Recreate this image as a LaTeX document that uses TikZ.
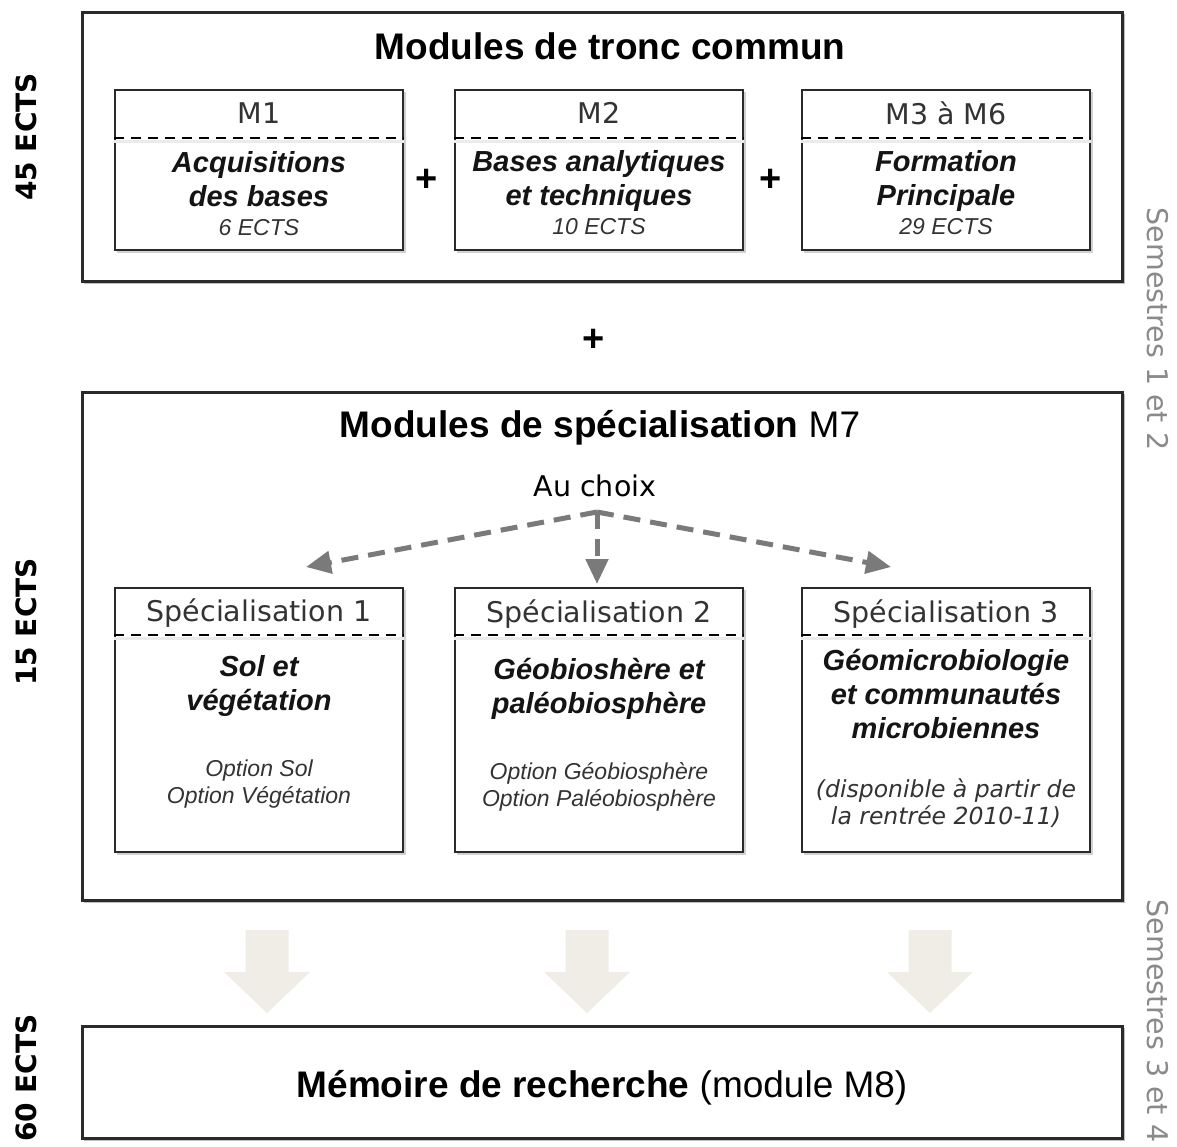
\documentclass[tikz,border=0pt]{standalone}
\usepackage{fontspec}
\setmainfont{Liberation Sans}
\newfontfamily\verd{DejaVu Sans}
\newfontfamily\verdbold{DejaVu Sans Bold}
\usetikzlibrary{arrows.meta}
\definecolor{txtdark}{HTML}{333333}
\definecolor{boxline}{HTML}{2A2A2A}
\definecolor{arrowgray}{HTML}{7A7A7A}
\definecolor{beige}{HTML}{EFEDE6}
\definecolor{semgray}{HTML}{8A8A8A}
\tikzset{
  outerbox/.style={draw=boxline, line width=3pt, minimum width=1040pt, inner sep=0pt},
  modbox/.style={draw=boxline, line width=2pt, minimum width=288pt, inner sep=0pt},
  sepline/.style={line width=2.5pt, dash pattern=on 10pt off 7pt},
  sepshadow/.style={line width=3pt, black!8},
  bigtitle/.style={font=\fontsize{37}{44}\selectfont\bfseries, text=black},
  header/.style={font=\verd\fontsize{28.5}{34}\selectfont, text=txtdark, inner sep=0pt},
  modtitle/.style={font=\fontsize{29}{34}\selectfont\bfseries\itshape, text=black!92, align=center, inner sep=0pt},
  ectsnote/.style={font=\fontsize{23}{27}\selectfont\itshape, text=txtdark, inner sep=0pt},
  optnote/.style={font=\fontsize{23}{27}\selectfont\itshape, text=txtdark, align=center, inner sep=0pt},
  plussign/.style={font=\fontsize{38}{40}\selectfont\bfseries, inner sep=0pt},
  choicearrow/.style={draw=arrowgray, line width=5pt, dash pattern=on 17pt off 10pt, -{Triangle[length=25pt,width=22pt]}},
  bigarrow/.style={fill=beige},
  ectslabel/.style={font=\verdbold\fontsize{28}{30}\selectfont, rotate=90, inner sep=0pt},
  semlabel/.style={font=\verd\fontsize{28.5}{30}\selectfont, text=semgray, rotate=-90, inner sep=0pt},
}
\begin{document}
\begin{tikzpicture}[x=1pt,y=-1pt]
\useasboundingbox (0,0) rectangle (1177,1146);
\fill[white] (0,0) rectangle (1177,1146);

% ---------- Outer boxes (with faint shadow)
\fill[black!25] (84,14) rectangle (1125,284);
\node[outerbox, fill=white, minimum height=269pt] (tronc) at (602,146.5) {};
\node[bigtitle] (tronctitle) at (610,46) {Modules de tronc commun};

% ---------- Top modules
\foreach \cx/\nm in {259/m1, 599/m2, 946/m3}{
  \fill[black!18] (\cx-142,92) rectangle (\cx+147,253);
  \node[modbox, fill=white, minimum height=160pt] (\nm) at (\cx,170) {};
  \draw[sepshadow] ([yshift=-3pt]\nm.west |- 0,138) -- ([yshift=-3pt]\nm.east |- 0,138);
  \draw[sepline] (\nm.west |- 0,138) -- (\nm.east |- 0,138);
}
\node[header] (m1h) at (259,113) {M1};
\node[header] (m2h) at (599,113) {M2};
\node[header] (m3h) at (946,113) {M3 à M6};

\node[modtitle] (m1t) at (259,179) {Acquisitions\\des bases};
\node[modtitle] (m2t) at (599,181) {Bases analytiques\\et techniques};
\node[modtitle] (m3t) at (946,181) {Formation\\Principale};

\node[ectsnote] (m1e) at (259,228) {6 ECTS};
\node[ectsnote] (m2e) at (599,227) {10 ECTS};
\node[ectsnote] (m3e) at (946,227) {29 ECTS};

\node[plussign] (p1) at (427,180) {+};
\node[plussign] (p2) at (771,180) {+};
\node[plussign] (p3) at (594,340) {+};

% ---------- Specialisation block
\fill[black!25] (84,394) rectangle (1125,903);
\node[outerbox, fill=white, minimum height=508pt] (spec) at (602,646) {};
\node[font=\fontsize{37}{44}\selectfont] (spectitle) at (600,428) {\textbf{Modules de spécialisation} M7};
\node[font=\verd\fontsize{28.5}{34}\selectfont, inner sep=0pt] (auchoix) at (595,486) {Au choix};

\foreach \cx/\nm in {259/s1, 599/s2, 946/s3}{
  \fill[black!18] (\cx-142,590) rectangle (\cx+147,855);
  \node[modbox, fill=white, minimum height=264pt] (\nm) at (\cx,720) {};
  \draw[sepshadow] ([yshift=-3pt]\nm.west |- 0,635) -- ([yshift=-3pt]\nm.east |- 0,635);
  \draw[sepline] (\nm.west |- 0,635) -- (\nm.east |- 0,635);
}
\node[header] (s1h) at (259,613) {Spécialisation 1};
\node[header] (s2h) at (599,614) {Spécialisation 2};
\node[header] (s3h) at (946,614) {Spécialisation 3};

\node[modtitle] (s1t) at (259,685.5) {Sol et\\végétation};
\node[modtitle] (s2t) at (599,688.5) {Géobioshère et\\paléobiosphère};
\node[modtitle] (s3t) at (946,694) {Géomicrobiologie\\et communautés\\microbiennes};

\node[optnote] (s1o) at (259,784) {Option Sol\\Option Végétation};
\node[optnote] (s2o) at (599,786.5) {Option Géobiosphère\\Option Paléobiosphère};
\node[font=\verd\fontsize{23.5}{27}\selectfont\itshape, text=txtdark, align=center, inner sep=0pt] (s3o) at (946,803) {(disponible à partir de\\la rentrée 2010-11)};

% ---------- Choice arrows
\coordinate (fork) at (597,512);
\coordinate (to1) at (306,567);
\coordinate (to2) at (597,584);
\coordinate (to3) at (891,567);
\draw[choicearrow] (fork) -- (to1);
\draw[choicearrow] (fork) -- (to3);
\draw[choicearrow] (fork) -- (to2);

% ---------- Big beige arrows
\foreach \cx in {267,587,930}{
  \fill[bigarrow] (\cx-21.5,930) -- (\cx+21.5,930) -- (\cx+21.5,972) -- (\cx+43,972)
     -- (\cx,1013) -- (\cx-43,972) -- (\cx-21.5,972) -- cycle;
}

% ---------- Memoire box
\fill[black!25] (84,1028) rectangle (1125,1141);
\node[outerbox, fill=white, minimum height=112pt] (memoire) at (602,1082) {};
\node[font=\fontsize{37}{44}\selectfont] (memtext) at (602,1088) {\textbf{Mémoire de recherche} (module M8)};

% ---------- Side labels
\node[ectslabel] (e45) at (26,137) {45 ECTS};
\node[ectslabel] (e15) at (26,622) {15 ECTS};
\node[ectslabel] (e60) at (26,1078) {60 ECTS};

\node[semlabel] (sem12) at (1158,329) {Semestres 1 et 2};
\node[semlabel] (sem34) at (1158,1021) {Semestres 3 et 4};
\end{tikzpicture}
\end{document}
